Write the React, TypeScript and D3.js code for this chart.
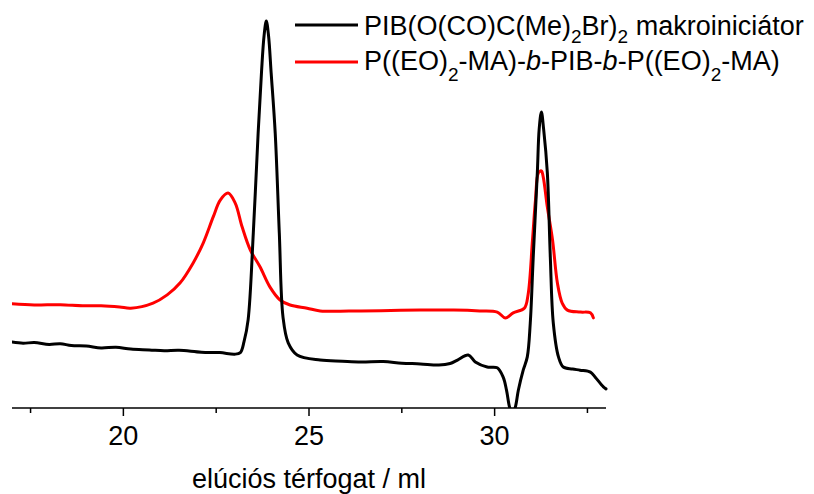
import React from "react";
import * as d3 from "d3";

// elution volume (ml) and detector signal (arbitrary units)
const blackVolume = [17.0, 17.3, 17.6, 18.0, 18.3, 18.6, 19.0, 19.4, 19.8, 20.2, 20.7, 21.1, 21.5, 22.1, 22.6, 23.0, 23.15, 23.25, 23.36, 23.5, 23.63, 23.72, 23.79, 23.85, 23.91, 23.98, 24.09, 24.2, 24.3, 24.44, 24.68, 25.3, 25.9, 26.4, 27.0, 27.5, 28.0, 28.5, 28.8, 29.0, 29.29, 29.48, 29.8, 30.07, 30.23, 30.32, 30.4, 30.48, 30.56, 30.64, 30.77, 30.88, 30.96, 31.04, 31.15, 31.2, 31.26, 31.32, 31.42, 31.5, 31.58, 31.72, 31.85, 32.1, 32.3, 32.58, 32.71, 32.93, 33.0];
const blackSignal = [16.9, 16.6, 16.8, 16.3, 16.5, 16.0, 15.9, 15.4, 15.6, 15.1, 14.9, 14.7, 14.8, 14.3, 14.2, 13.8, 14.2, 17.0, 22.6, 44.9, 70.5, 86.0, 95.5, 99.2, 95.5, 86.0, 70.5, 44.9, 23.3, 16.7, 13.6, 12.3, 12.0, 11.8, 11.9, 11.5, 11.3, 11.0, 11.4, 12.3, 13.6, 11.8, 10.5, 10.3, 7.9, 4.6, 0.3, -1.8, 0.3, 4.6, 9.7, 13.1, 21.8, 38.7, 60.3, 71.5, 75.9, 71.5, 60.3, 38.7, 21.8, 13.1, 10.5, 10.0, 9.7, 9.2, 7.9, 5.4, 4.9];

const redVolume = [17.0, 17.6, 18.3, 18.9, 19.4, 19.9, 20.2, 20.8, 21.18, 21.53, 21.88, 22.15, 22.42, 22.61, 22.82, 23.01, 23.2, 23.42, 23.68, 23.95, 24.22, 24.49, 24.95, 25.3, 26.4, 27.2, 28.0, 28.9, 29.6, 30.07, 30.29, 30.5, 30.8, 30.9, 31.02, 31.1, 31.18, 31.26, 31.31, 31.42, 31.56, 31.69, 31.82, 31.96, 32.31, 32.58, 32.66];
const redSignal = [26.7, 26.4, 26.5, 26.2, 26.2, 25.9, 25.6, 26.9, 29.0, 32.1, 37.2, 42.3, 49.0, 53.3, 55.1, 52.6, 46.4, 40.5, 36.2, 31.0, 27.7, 26.4, 25.6, 24.9, 24.9, 25.0, 25.1, 25.1, 24.9, 24.6, 23.1, 24.4, 25.6, 29.0, 43.1, 53.3, 60.3, 60.8, 59.2, 51.5, 43.1, 32.1, 26.9, 25.1, 24.6, 24.4, 23.1];

const majorTicks = [20, 25, 30];
const minorTicks = [17.5, 22.5, 27.5, 32.5];
const axisTitle = "elúciós térfogat / ml";

const W = 814;
const H = 494;
const left = 12;
const right = 606;
const bottom = 408;
const top = 18;

export default function App() {
  const x = d3.scaleLinear().domain([17, 33]).range([left, right]);
  const y = d3.scaleLinear().domain([0, 100]).range([bottom, top]);
  const line = d3
    .line<[number, number]>()
    .x((d) => x(d[0]))
    .y((d) => y(d[1]))
    .curve(d3.curveCatmullRom.alpha(0.5));
  const black = blackVolume.map((v, i) => [v, blackSignal[i]] as [number, number]);
  const red = redVolume.map((v, i) => [v, redSignal[i]] as [number, number]);
  const font = "'Liberation Sans', Arial, sans-serif";

  return (
    <svg
      width={W}
      height={H}
      style={{ position: "absolute", left: 0, top: 0, background: "#fff" }}
      fontFamily={font}
    >
      <defs>
        <clipPath id="plotclip">
          <rect x={left} y={0} width={right - left + 2} height={bottom} />
        </clipPath>
      </defs>
      <g clipPath="url(#plotclip)" fill="none" strokeWidth={3} strokeLinejoin="round" strokeLinecap="round">
        <path d={line(red) || ""} stroke="#ff0000" />
        <path d={line(black) || ""} stroke="#000" />
      </g>
      <line x1={left} x2={right} y1={bottom} y2={bottom} stroke="#000" strokeWidth={1.5} />
      {majorTicks.map((t) => (
        <g key={"M" + t}>
          <line x1={x(t)} x2={x(t)} y1={bottom} y2={bottom + 8} stroke="#000" strokeWidth={1.5} />
          <text x={x(t)} y={445} textAnchor="middle" fontSize={27} fill="#000">
            {t}
          </text>
        </g>
      ))}
      {minorTicks.map((t) => (
        <line key={"m" + t} x1={x(t)} x2={x(t)} y1={bottom} y2={bottom + 5} stroke="#000" strokeWidth={1.5} />
      ))}
      <text x={309} y={488} textAnchor="middle" fontSize={27} fill="#000">
        {axisTitle}
      </text>
      {/* legend */}
      <line x1={295} x2={358} y1={25} y2={25} stroke="#000" strokeWidth={3} />
      <line x1={295} x2={358} y1={62} y2={62} stroke="#ff0000" strokeWidth={3} />
      <text x={364} y={35} fontSize={27} fill="#000">
        PIB(O(CO)C(Me)<tspan fontSize={19} dy={8}>2</tspan>
        <tspan dy={-8}>Br)</tspan>
        <tspan fontSize={19} dy={8}>2</tspan>
        <tspan dy={-8}> makroiniciátor</tspan>
      </text>
      <text x={364} y={70} fontSize={27} fill="#000">
        P((EO)<tspan fontSize={19} dy={11}>2</tspan>
        <tspan dy={-11}>-MA)-</tspan>
        <tspan fontStyle="italic">b</tspan>
        <tspan>-PIB-</tspan>
        <tspan fontStyle="italic">b</tspan>
        <tspan>-P((EO)</tspan>
        <tspan fontSize={19} dy={11}>2</tspan>
        <tspan dy={-11}>-MA)</tspan>
      </text>
    </svg>
  );
}
